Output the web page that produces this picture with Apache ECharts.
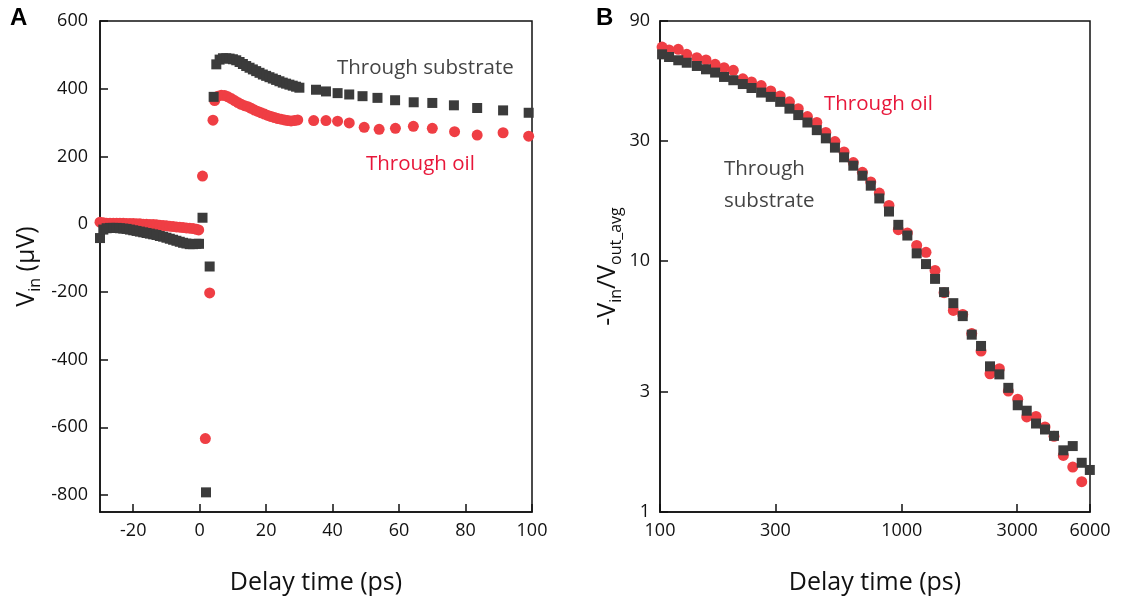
<!DOCTYPE html>
<html><head><meta charset="utf-8">
<script src="https://cdn.jsdelivr.net/npm/echarts@6/dist/echarts.min.js"></script>
<style>html,body{margin:0;padding:0;background:#fff}#c{width:1125px;height:602px}</style>
</head><body><div id="c"></div>
<script>
// ---------- Panel A: V_in vs delay time ----------
const aSubT = [-30,-29,-28,-27,-26,-25,-24,-23,-22,-21,-20,-19,-18,-17,-16,-15,-14,-13,-12,-11,-10,-9,-8,-7,-6,-5,-4,-3,-2,-1,-0.2,
  0.85,1.9,3.0,4.2,5.0,6,7,8,9,10,11,12,13,14,15,16,17,18,19,20,21,22,23,24,25,26,27,28,29,30,
  35,38,41.5,45,49,53.5,58.8,64.4,70,76.5,83.5,91.3,99];
const aSubV = [-41,-16,-12,-11,-11,-11,-12,-13,-14,-16,-18,-20,-22,-24,-26,-28,-30,-32,-35,-37,-40,-43,-46,-49,-52,-55,-57,-59,-59,-58,-58,
  19,-792,-125,376,472,486,490,490,489,487,484,479,473,467,462,457,452,447,442,438,434,430,426,422,418,415,412,409,406,403,
  397,392,387,383,378,373,366,360,358,351,343,336,329];
const aOilT = [-30,-29,-28,-27,-26,-25,-24,-23,-22,-21,-20,-19,-18,-17,-16,-15,-14,-13,-12,-11,-10,-9,-8,-7,-6,-5,-4,-3,-2,-1,-0.3,
  0.85,1.7,3.0,4.0,4.5,5.5,6.5,7.5,8.5,9.5,10.5,11.5,12.5,13.5,14.5,15.5,16.5,17.5,18.5,19.5,20.5,21.5,22.5,23.5,24.5,25.5,26.5,27.5,28.5,29.5,
  34.3,38,41.5,45,49.5,54,58.9,64.3,70,76.7,83.5,91.3,99];
const aOilV = [6,4,3,3,3,3,3,3,2,2,2,1,1,0,0,-1,-1,-2,-3,-4,-5,-6,-7,-8,-9,-10,-11,-12,-13,-15,-17,
  142,-633,-203,307,365,378,381,380,376,371,365,359,354,350,347,342,337,333,329,325,321,318,315,312,310,308,306,305,306,308,
  306,306,304,299,286,280,283,289,283,273,263,270,260];
const aXTicks = [-20,0,20,40,60,80,100];
const aYTicks = [-800,-600,-400,-200,0,200,400,600];

// ---------- Panel B: -Vin/Vout_avg vs delay time (log-log) ----------
const bT = [102,109,119,129,142,155,169,184,201,220,239,262,287,314,343,373,407,445,485,529,
  577,630,687,744,807,885,967,1054,1152,1259,1372,1495,1633,1786,1946,2126,2316,2531,2757,3015,
  3285,3589,3910,4260,4655,5091,5546,5990];
const bSubV = [66.3,64.7,62.8,61.4,59.6,57.8,56.1,53.9,52.3,50.5,48.7,46.7,44.9,42.9,40.3,38.0,35.5,33.1,30.7,28.2,
  25.8,23.9,21.8,19.9,17.7,15.7,13.9,12.6,10.7,9.7,8.47,7.5,6.78,6.02,5.08,4.58,3.80,3.53,3.12,2.66,
  2.53,2.25,2.13,2.01,1.76,1.83,1.57,1.47];
const bOilV = [70.9,69.0,69.4,66.3,64.3,63.0,60.5,58.7,57.3,53.0,51.5,49.8,47.4,45.3,42.9,40.3,37.5,35.5,32.4,29.8,
  27.1,24.6,22.5,20.6,18.6,16.6,13.3,12.9,11.5,10.8,9.15,7.46,6.34,6.11,5.13,4.37,3.55,3.72,3.03,2.81,
  2.39,2.40,2.18,2.00,1.68,1.51,1.32];
const bXTicks = [100,300,1000,3000,6000];
const bYTicks = [1,3,10,30,90];

const FONT = 'Open Sans';
const AX = '#111';
const RED = '#ef3e44';
const DARK = '#3b3b3b';
const RED_TXT = '#e8173a';
const DARK_TXT = '#444';

const zip = (xs, ys) => ys.map((v, i) => [xs[i], v]);

const tickStyle = { show: true, inside: true, length: 8, lineStyle: { color: AX, width: 1.5 } };
const lineStyle = { show: true, onZero: false, lineStyle: { color: AX, width: 1.5 } };
const labelBase = { color: AX, fontSize: 18, fontFamily: FONT };
const nameRich = {
  a: { fontSize: 25, fontFamily: FONT, color: AX, lineHeight: 29, verticalAlign: 'top' },
  b: { fontSize: 16, fontFamily: FONT, color: AX, lineHeight: 17, verticalAlign: 'bottom', padding: [15, 0, 0, 0] }
};
const xName = { fontSize: 25, fontFamily: FONT, color: AX };

const chart = echarts.init(document.getElementById('c'), null, { renderer: 'canvas' });
chart.setOption({
  animation: false,
  backgroundColor: '#fff',
  grid: [
    { left: 100, top: 21, width: 432, height: 491, show: true, borderColor: AX, borderWidth: 1.5, containLabel: false },
    { left: 660, top: 21, width: 430, height: 491, show: true, borderColor: AX, borderWidth: 1.5, containLabel: false }
  ],
  xAxis: [
    { gridIndex: 0, type: 'value', min: -30, max: 100, position: 'bottom',
      axisLine: lineStyle, axisTick: Object.assign({ customValues: aXTicks }, tickStyle),
      axisLabel: Object.assign({ customValues: aXTicks, margin: 10 }, labelBase),
      splitLine: { show: false },
      name: 'Delay time (ps)', nameLocation: 'middle', nameGap: 58, nameTextStyle: xName },
    { gridIndex: 1, type: 'log', logBase: 10, min: 100, max: 6000, position: 'bottom',
      axisLine: { show: false, onZero: false }, axisTick: { show: false }, axisLabel: { show: false }, splitLine: { show: false } },
    { gridIndex: 1, type: 'value', min: Math.log10(bXTicks[0]), max: Math.log10(bXTicks[bXTicks.length - 1]), position: 'bottom',
      axisLine: lineStyle, axisTick: Object.assign({ customValues: bXTicks.map(Math.log10) }, tickStyle),
      axisLabel: Object.assign({ customValues: bXTicks.map(Math.log10), margin: 10,
        formatter: v => String(Math.round(Math.pow(10, v))) }, labelBase),
      splitLine: { show: false },
      name: 'Delay time (ps)', nameLocation: 'middle', nameGap: 58, nameTextStyle: xName }
  ],
  yAxis: [
    { gridIndex: 0, type: 'value', min: -850, max: 600, position: 'left',
      axisLine: lineStyle, axisTick: Object.assign({ customValues: aYTicks }, tickStyle),
      axisLabel: Object.assign({ customValues: aYTicks, margin: 12 }, labelBase),
      splitLine: { show: false },
      name: '{a|V}{b|in}{a| (μV)}', nameLocation: 'middle', nameGap: 57,
      nameTextStyle: { rich: nameRich } },
    { gridIndex: 1, type: 'log', logBase: 10, min: 1, max: 90, position: 'left',
      axisLine: { show: false, onZero: false }, axisTick: { show: false }, axisLabel: { show: false }, splitLine: { show: false } },
    { gridIndex: 1, type: 'value', min: 0, max: Math.log10(bYTicks[bYTicks.length - 1]), position: 'left', offset: 0,
      axisLine: lineStyle, axisTick: Object.assign({ customValues: bYTicks.map(Math.log10) }, tickStyle),
      axisLabel: Object.assign({ customValues: bYTicks.map(Math.log10), margin: 10,
        formatter: v => String(Math.round(Math.pow(10, v))) }, labelBase),
      splitLine: { show: false },
      name: '{a|-V}{b|in}{a|/V}{b|out_avg}', nameLocation: 'middle', nameGap: 36,
      nameTextStyle: { rich: nameRich } }
  ],
  series: [
    { type: 'scatter', xAxisIndex: 0, yAxisIndex: 0, data: zip(aOilT, aOilV),
      symbol: 'circle', symbolSize: 11, itemStyle: { color: RED, opacity: 1 } },
    { type: 'scatter', xAxisIndex: 0, yAxisIndex: 0, data: zip(aSubT, aSubV),
      symbol: 'rect', symbolSize: 10, itemStyle: { color: DARK, opacity: 1 } },
    { type: 'scatter', xAxisIndex: 1, yAxisIndex: 1, data: zip(bT, bOilV),
      symbol: 'circle', symbolSize: 11, itemStyle: { color: RED, opacity: 1 } },
    { type: 'scatter', xAxisIndex: 1, yAxisIndex: 1, data: zip(bT, bSubV),
      symbol: 'rect', symbolSize: 10, itemStyle: { color: DARK, opacity: 1 } }
  ],
  graphic: [
    { type: 'text', left: 10, top: 6, style: { text: 'A', fill: '#000', font: 'bold 24px "Liberation Sans", Arial, sans-serif' } },
    { type: 'text', left: 596, top: 6, style: { text: 'B', fill: '#000', font: 'bold 24px "Liberation Sans", Arial, sans-serif' } },
    { type: 'text', left: 337, top: 58, style: { text: 'Through substrate', fill: DARK_TXT, font: '20.5px "Open Sans"' } },
    { type: 'text', left: 366, top: 154, style: { text: 'Through oil', fill: RED_TXT, font: '20.5px "Open Sans"' } },
    { type: 'text', left: 824, top: 94, style: { text: 'Through oil', fill: RED_TXT, font: '20.5px "Open Sans"' } },
    { type: 'text', left: 724, top: 153, style: { text: 'Through\nsubstrate', fill: DARK_TXT, font: '20.5px "Open Sans"', align: 'center', lineHeight: 32, x: 45 } }
  ]
});
</script></body></html>
